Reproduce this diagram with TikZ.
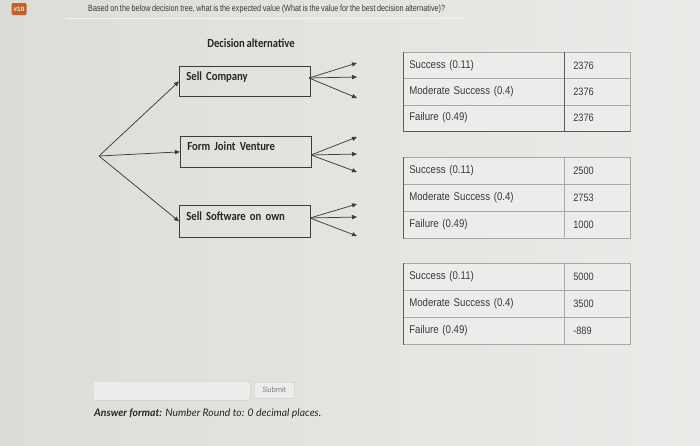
\documentclass[tikz,border=0pt]{standalone}
\usepackage{fontspec}
\setmainfont{Liberation Sans}
\newfontfamily\qfont[FakeStretch=0.8,WordSpace=0.8]{Liberation Sans}
\newfontfamily\tfont[FakeStretch=0.86,WordSpace=0.86]{Liberation Sans}
\newfontfamily\calib[FakeStretch=0.86,WordSpace=0.7]{Carlito}
\newfontfamily\latof{Lato}
\usetikzlibrary{arrows.meta}
\definecolor{bgL}{HTML}{DCDCD8}
\definecolor{bgR}{HTML}{EBEBE9}
\definecolor{badgec}{HTML}{C2612A}
\definecolor{boxc}{HTML}{3C3C3C}
\definecolor{tabc}{HTML}{A8A8A6}
\definecolor{tabdark}{HTML}{5A5A5A}
\definecolor{cellc}{HTML}{ECECEA}
\definecolor{txtc}{HTML}{3A3A3A}
\begin{document}
\begin{tikzpicture}[x=1pt,y=-1pt,
  qtext/.style={anchor=west, inner sep=0pt, text=txtc, font=\qfont\fontsize{9.05}{10}\selectfont},
  altbox/.style={draw=boxc, line width=0.7pt, anchor=north west, minimum width=131pt,
     text width=117pt, inner xsep=7pt, inner ysep=3pt, align=left, text height=11pt, text depth=13pt,
     text=black!85, font=\calib\bfseries\fontsize{12.4}{13}\selectfont},
  arr/.style={draw=boxc, line width=0.75pt, -{Triangle[length=5pt,width=4.2pt]}},
  lcell/.style={draw=tabc, fill=cellc, line width=0.6pt, anchor=north west, text width=149pt,
     inner xsep=6pt, inner ysep=0pt, align=left, text=txtc, font=\tfont\fontsize{11.2}{12}\selectfont},
  vcell/.style={draw=tabc, fill=cellc, line width=0.6pt, anchor=north west, text width=48pt,
     inner xsep=9pt, inner ysep=0pt, align=left, text=txtc, font=\tfont\fontsize{10.7}{12}\selectfont},
  darkedge/.style={draw=tabdark, line width=0.8pt}
]
\useasboundingbox (0,0) rectangle (700,445);
\shade[left color=bgL, right color=bgR] (0,0) rectangle (700,445);

% header
\node[fill=badgec, rounded corners=1.2pt, minimum width=15pt, minimum height=12pt, inner sep=0pt,
  text=white!90!badgec, font=\bfseries\fontsize{6.3}{7}\selectfont] (badge) at (19,9) {\#10};
\node[qtext] (q) at (88,9.5) {Based on the below decision tree, what is the expected value (What is the value for the best decision alternative)?};
\draw[white!40!bgR, line width=0.5pt] (65,18) -- (467,18);

% decision tree
\node[font=\calib\bfseries\fontsize{12.4}{13}\selectfont, text=black!85] (title) at (251,43) {Decision alternative};
\coordinate (root) at (99,156);
\node[altbox, minimum height=30pt] (sc) at (179,66) {Sell Company};
\node[altbox, minimum height=31pt] (fjv) at (180,136) {Form Joint Venture};
\node[altbox, minimum height=32pt] (ss) at (179,205) {Sell Software on own};
\draw[arr] (root) -- (sc.west);
\draw[arr] (root) -- (fjv.west);
\draw[arr] (root) -- (ss.west);

\coordinate (sc1) at (357,63);  \coordinate (sc2) at (357,77);  \coordinate (sc3) at (357,98);
\coordinate (fj1) at (357,137); \coordinate (fj2) at (357,154); \coordinate (fj3) at (357,172);
\coordinate (ss1) at (357,204); \coordinate (ss2) at (357,217); \coordinate (ss3) at (357,236);
\coordinate (scO) at (309,78);
\coordinate (fjO) at (311,155);
\coordinate (ssO) at (310,218);
\foreach \e in {sc1,sc2,sc3} \draw[arr] (scO) -- (\e);
\foreach \e in {fj1,fj2,fj3} \draw[arr] (fjO) -- (\e);
\foreach \e in {ss1,ss2,ss3} \draw[arr] (ssO) -- (\e);

% table 1
\node[lcell, minimum height=26.3pt] (a1) at (403,52) {Success (0.11)};
\node[lcell, minimum height=26.3pt] (a2) at (403,78.3) {Moderate Success (0.4)};
\node[lcell, minimum height=26.3pt] (a3) at (403,104.6) {Failure (0.49)};
\node[vcell, minimum height=26.3pt] (av1) at (564,52) {2376};
\node[vcell, minimum height=26.3pt] (av2) at (564,78.3) {2376};
\node[vcell, minimum height=26.3pt] (av3) at (564,104.6) {2376};
\draw[darkedge] (a1.north west) -- (a3.south west) -- (av3.south east);
\draw[darkedge] (av1.north west) -- (av3.south west);

% table 2
\node[lcell, minimum height=27pt] (b1) at (403,157) {Success (0.11)};
\node[lcell, minimum height=27pt] (b2) at (403,184) {Moderate Success (0.4)};
\node[lcell, minimum height=27pt] (b3) at (403,211) {Failure (0.49)};
\node[vcell, minimum height=27pt] (bv1) at (564,157) {2500};
\node[vcell, minimum height=27pt] (bv2) at (564,184) {2753};
\node[vcell, minimum height=27pt] (bv3) at (564,211) {1000};
\draw[darkedge] (b1.north west) -- (b3.south west);

% table 3
\node[lcell, minimum height=27pt] (c1) at (403,263) {Success (0.11)};
\node[lcell, minimum height=27pt] (c2) at (403,290) {Moderate Success (0.4)};
\node[lcell, minimum height=27pt] (c3) at (403,317) {Failure (0.49)};
\node[vcell, minimum height=27pt] (cv1) at (564,263) {5000};
\node[vcell, minimum height=27pt] (cv2) at (564,290) {3500};
\node[vcell, minimum height=27pt] (cv3) at (564,317) {-889};
\draw[darkedge] (c1.north west) -- (c3.south west);

% answer area
\node[draw=tabc!70, fill=cellc, rounded corners=1pt, anchor=north west, minimum width=157pt,
  minimum height=19pt, inner sep=0pt] (input) at (93,381) {};
\node[draw=tabc!70, fill=cellc, rounded corners=1pt, anchor=north west, minimum width=40pt,
  minimum height=16pt, inner sep=0pt, text=gray, font=\fontsize{7.6}{8}\selectfont] (submit) at (254,382) {Submit};
\node[anchor=west, inner sep=0pt, text=black!85, font=\latof\itshape\fontsize{10.4}{12}\selectfont] (fmt) at (94,414)
  {\textbf{Answer format:} Number Round to: 0 decimal places.};
\end{tikzpicture}
\end{document}
